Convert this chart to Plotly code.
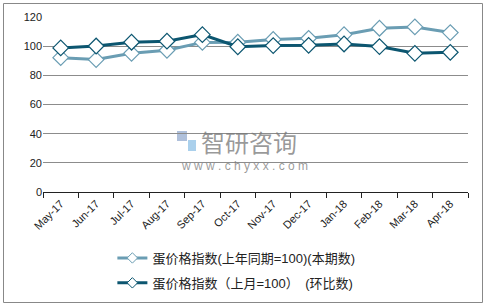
import plotly.graph_objects as go

categories = ["May-17", "Jun-17", "Jul-17", "Aug-17", "Sep-17", "Oct-17",
              "Nov-17", "Dec-17", "Jan-18", "Feb-18", "Mar-18", "Apr-18"]
yoy_values = [92.1, 90.8, 95.1, 97.2, 102.6, 102.7, 104.6, 105.4, 107.9, 112.3, 113.2, 109.3]
mom_values = [98.8, 100.1, 102.7, 103.4, 107.9, 99.6, 100.4, 100.6, 101.5, 99.7, 95.1, 95.8]
series_names = ["蛋价格指数(上年同期=100)(本期数)", "蛋价格指数（上月=100）　(环比数)"]
y_ticks = [0, 20, 40, 60, 80, 100, 120]

font_family = "Liberation Sans, Noto Sans CJK SC, sans-serif"
c_light = "#6a9db3"
c_dark = "#0c5670"

fig = go.Figure()
for name, vals, col, grp in [(series_names[0], yoy_values, c_light, "a"),
                             (series_names[1], mom_values, c_dark, "b")]:
    fig.add_trace(go.Scatter(
        x=categories, y=vals, name=name, mode="lines+markers",
        legendgroup=grp, showlegend=False,
        line=dict(color=col, width=3),
        marker=dict(symbol="diamond", size=12, color="white",
                    line=dict(color=col, width=1.2)),
    ))
    # legend-only entry with a smaller marker, as in the reference legend
    fig.add_trace(go.Scatter(
        x=[None], y=[None], name=name, mode="lines+markers",
        legendgroup=grp, showlegend=True,
        line=dict(color=col, width=3),
        marker=dict(symbol="diamond", size=8, color="white",
                    line=dict(color=col, width=1)),
    ))

W, H = 487, 306
ml, mr, mt, mb = 43, 19, 17, 114
pw, ph = W - ml - mr, H - mt - mb

def px(x):
    return (x - ml) / pw

def py(y):
    return (H - mb - y) / ph

fig.update_layout(
    width=W, height=H,
    margin=dict(l=ml, r=mr, t=mt, b=mb, autoexpand=False),
    paper_bgcolor="white", plot_bgcolor="white",
    font=dict(family=font_family, size=11, color="#222"),
    showlegend=True,
    legend=dict(orientation="v", x=0.455, xanchor="center", y=py(243), yanchor="top",
                font=dict(size=13, color="#222"), tracegroupgap=5,
                traceorder="grouped", bgcolor="rgba(0,0,0,0)"),
    xaxis=dict(type="category", tickangle=-45, showgrid=False,
               showline=True, linecolor="#222", linewidth=1,
               ticks="outside", ticklen=5, tickcolor="#222", tickson="boundaries",
               tickfont=dict(size=11, color="#222"), range=[-0.5, 11.5]),
    yaxis=dict(range=[0, 120], tickvals=y_ticks, showgrid=True,
               gridcolor="#8c8c8c", gridwidth=1, zeroline=False, showline=False,
               tickfont=dict(size=11, color="#222"), ticks="", ticklen=0),
    shapes=[dict(type="rect", xref="paper", yref="paper",
                 x0=px(3.5), x1=px(482.5), y0=py(3.5), y1=py(302.5),
                 line=dict(color="#888", width=1), fillcolor="rgba(0,0,0,0)", layer="below"),
            dict(type="rect", xref="paper", yref="paper",
                 x0=px(177), x1=px(187), y0=py(131), y1=py(141),
                 line=dict(width=0), fillcolor="rgba(110,140,190,0.55)", layer="below"),
            dict(type="rect", xref="paper", yref="paper",
                 x0=px(188), x1=px(196), y0=py(140), y1=py(151),
                 line=dict(width=0), fillcolor="rgba(100,170,220,0.55)", layer="below")],
    annotations=[
        dict(text="智研咨询", xref="paper", yref="paper", x=px(199), y=py(141),
             xanchor="left", yanchor="middle", showarrow=False,
             font=dict(size=24, color="rgba(120,120,120,0.75)", family="Noto Sans CJK SC")),
        dict(text="w w w . c h y x x . c o m", xref="paper", yref="paper", x=px(244), y=py(166),
             xanchor="center", yanchor="middle", showarrow=False,
             font=dict(size=12, color="rgba(120,120,120,0.75)", family=font_family)),
    ],
)

fig.write_html("out.html")
